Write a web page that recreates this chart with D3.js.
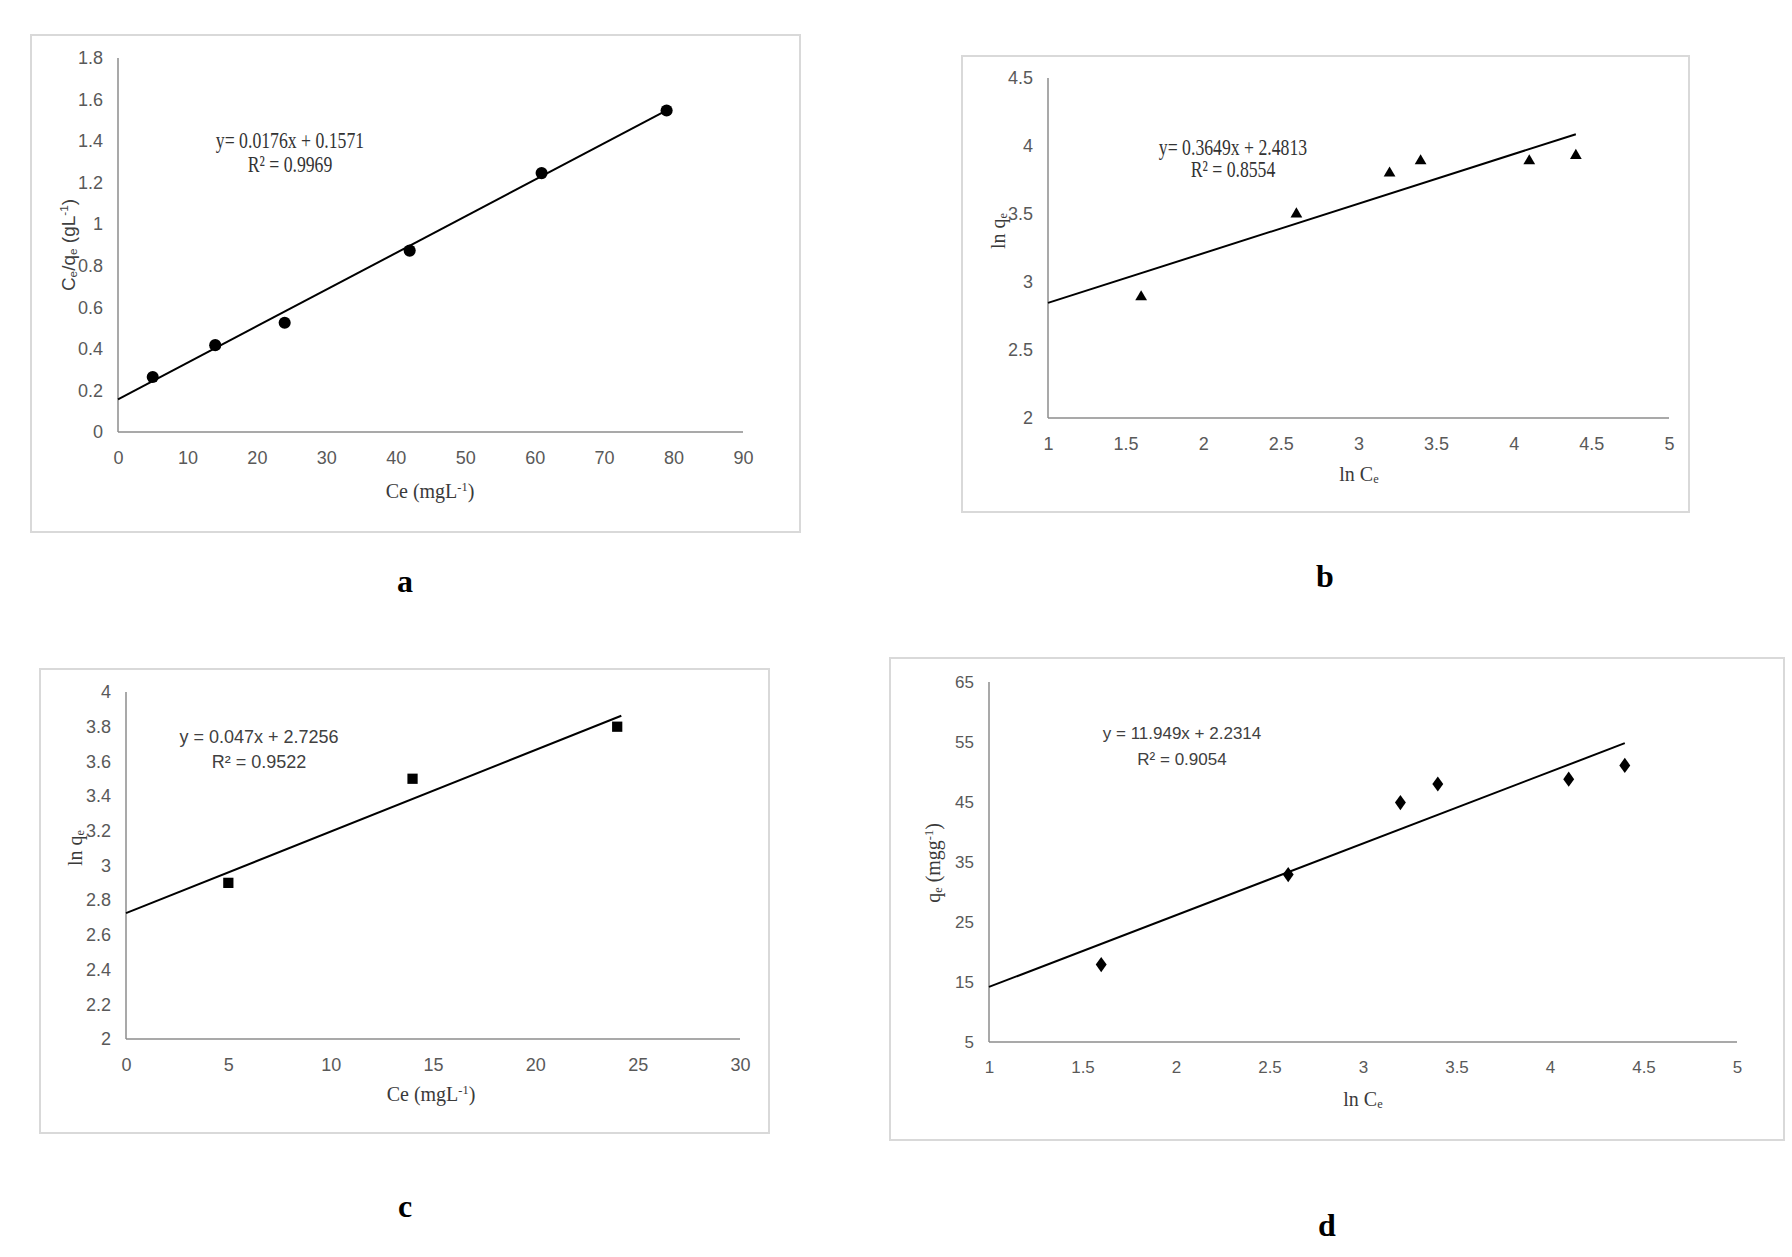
<!DOCTYPE html>
<html>
<head>
<meta charset="utf-8">
<script src="https://cdn.jsdelivr.net/npm/d3@7"></script>
<style>
  body { margin: 0; background: #ffffff; }
  .frame { fill: none; stroke: #d9d9d9; stroke-width: 2px; }
  .axis path.domain { stroke: #8c8c8c; stroke-width: 1.5px; }
  .axis .tick line { display: none; }
  .axis text { font-family: "Liberation Sans Narrow", "Liberation Sans", sans-serif; font-size: 18px; fill: #595959; }
  .axis.wide text { font-family: "Liberation Sans", sans-serif; font-size: 17px; }
  .fit { stroke: #000000; stroke-width: 2px; fill: none; }
  .marker { fill: #000000; }
  .title { font-family: "Liberation Serif", "Times New Roman", serif; font-size: 20px; fill: #3a3a3a; }
  .title.sans { font-family: "Liberation Sans Narrow", sans-serif; font-size: 19px; fill: #404040; }
  .eq-serif { font-family: "Liberation Serif", serif; font-size: 23px; fill: #333333; }
  .eq-sans { font-family: "Liberation Sans Narrow", sans-serif; font-size: 18px; fill: #404040; }
  .eq-sans.wide { font-family: "Liberation Sans", sans-serif; font-size: 17px; }
  .panel-label { font-family: "Liberation Serif", serif; font-weight: bold; font-size: 32px; fill: #000000; }
</style>
</head>
<body>
<svg id="fig" width="1792" height="1257"></svg>
<script>
// ---- data ----
// a: Langmuir, Ce/qe vs Ce
const aCe = [5, 14, 24, 42, 61, 79];
const aCeOverQe = [0.265, 0.418, 0.526, 0.873, 1.246, 1.547];
const aXTicks = [0, 10, 20, 30, 40, 50, 60, 70, 80, 90];
const aYTicks = [0, 0.2, 0.4, 0.6, 0.8, 1, 1.2, 1.4, 1.6, 1.8];
const aFit = [0.0176, 0.1571];      // slope, intercept
const aFitRange = [0, 79];
const aEquation = ['y= 0.0176x + 0.1571', 'R² = 0.9969'];

// b: Freundlich, ln qe vs ln Ce
const bLnCe = [1.6, 2.6, 3.2, 3.4, 4.1, 4.4];
const bLnQe = [2.89, 3.5, 3.8, 3.89, 3.89, 3.93];
const bXTicks = [1, 1.5, 2, 2.5, 3, 3.5, 4, 4.5, 5];
const bYTicks = [2, 2.5, 3, 3.5, 4, 4.5];
const bFit = [0.3649, 2.4813];
const bFitRange = [1, 4.4];
const bEquation = ['y= 0.3649x + 2.4813', 'R² = 0.8554'];

// c: ln qe vs Ce
const cCe = [5, 14, 24];
const cLnQe = [2.9, 3.5, 3.8];
const cXTicks = [0, 5, 10, 15, 20, 25, 30];
const cYTicks = [2, 2.2, 2.4, 2.6, 2.8, 3, 3.2, 3.4, 3.6, 3.8, 4];
const cFit = [0.047, 2.7256];
const cFitRange = [0, 24.2];
const cEquation = ['y = 0.047x + 2.7256', 'R² = 0.9522'];

// d: Temkin, qe vs ln Ce
const dLnCe = [1.6, 2.6, 3.2, 3.4, 4.1, 4.4];
const dQe = [17.9, 32.9, 44.9, 48, 48.8, 51.1];
const dXTicks = [1, 1.5, 2, 2.5, 3, 3.5, 4, 4.5, 5];
const dYTicks = [5, 15, 25, 35, 45, 55, 65];
const dFit = [11.949, 2.2314];
const dFitRange = [1, 4.4];
const dEquation = ['y = 11.949x + 2.2314', 'R² = 0.9054'];

// ---- layout ----
const svg = d3.select('#fig');

// custom diamond, a bit taller than wide
const diamond = {
  draw(ctx, size) {
    const h = Math.sqrt(size) * 0.8, w = h * 0.72;
    ctx.moveTo(0, -h); ctx.lineTo(w, 0); ctx.lineTo(0, h); ctx.lineTo(-w, 0); ctx.closePath();
  }
};

function richText(sel, parts) {
  parts.forEach(p => {
    const t = sel.append('tspan').text(p[0]);
    if (p[1] === 'sub') t.attr('font-size', '0.62em').attr('baseline-shift', '-20%');
    if (p[1] === 'sup') t.attr('font-size', '0.62em').attr('baseline-shift', '55%');
  });
}

const panels = [
  {
    frame: [31, 35, 800, 532], xRange: [118, 743], yRange: [432, 58],
    xs: aCe, ys: aCeOverQe, xTicks: aXTicks, yTicks: aYTicks,
    fit: aFit, fitRange: aFitRange, eq: aEquation, eqClass: 'eq-serif', eqScale: 0.77,
    eqPos: [290, 148, 172], symbol: d3.symbolCircle, symSize: 115,
    xTitle: [['Ce (mgL'], ['-1', 'sup'], [')']], xTitlePos: [430, 498],
    yTitle: [['C'], ['e', 'sub'], ['/q'], ['e', 'sub'], [' (gL'], ['-1', 'sup'], [')']], yTitlePos: [75, 245],
    yTitleSans: true,
    label: 'a', labelPos: [405, 592], wide: false
  },
  {
    frame: [962, 56, 1689, 512], xRange: [1048, 1669], yRange: [418, 78],
    xs: bLnCe, ys: bLnQe, xTicks: bXTicks, yTicks: bYTicks,
    fit: bFit, fitRange: bFitRange, eq: bEquation, eqClass: 'eq-serif', eqScale: 0.77,
    eqPos: [1233, 155, 177], symbol: d3.symbolTriangle, symSize: 60,
    xTitle: [['ln C'], ['e', 'sub']], xTitlePos: [1359, 481],
    yTitle: [['ln  q'], ['e', 'sub']], yTitlePos: [1005, 231],
    label: 'b', labelPos: [1325, 587], wide: false
  },
  {
    frame: [40, 669, 769, 1133], xRange: [126, 740], yRange: [1039, 692],
    xs: cCe, ys: cLnQe, xTicks: cXTicks, yTicks: cYTicks,
    fit: cFit, fitRange: cFitRange, eq: cEquation, eqClass: 'eq-sans', eqScale: 1,
    eqPos: [259, 743, 768], symbol: d3.symbolSquare, symSize: 105,
    xTitle: [['Ce (mgL'], ['-1', 'sup'], [')']], xTitlePos: [431, 1101],
    yTitle: [['ln  q'], ['e', 'sub']], yTitlePos: [82, 848],
    label: 'c', labelPos: [405, 1217], wide: false
  },
  {
    frame: [890, 658, 1784, 1140], xRange: [989, 1737], yRange: [1042, 682],
    xs: dLnCe, ys: dQe, xTicks: dXTicks, yTicks: dYTicks,
    fit: dFit, fitRange: dFitRange, eq: dEquation, eqClass: 'eq-sans wide', eqScale: 1,
    eqPos: [1182, 739, 765], symbol: diamond, symSize: 90,
    xTitle: [['ln C'], ['e', 'sub']], xTitlePos: [1363, 1106],
    yTitle: [['q'], ['e', 'sub'], [' (mgg'], ['-1', 'sup'], [')']], yTitlePos: [940, 863],
    label: 'd', labelPos: [1327, 1236], wide: true
  }
];

panels.forEach(p => {
  const g = svg.append('g');
  const f = p.frame;
  g.append('rect').attr('class', 'frame')
    .attr('x', f[0]).attr('y', f[1]).attr('width', f[2] - f[0]).attr('height', f[3] - f[1]);

  const x = d3.scaleLinear().domain(d3.extent(p.xTicks)).range(p.xRange);
  const y = d3.scaleLinear().domain(d3.extent(p.yTicks)).range(p.yRange);

  g.append('g').attr('class', 'axis' + (p.wide ? ' wide' : ''))
    .attr('transform', `translate(0,${p.yRange[0]})`)
    .call(d3.axisBottom(x).tickValues(p.xTicks).tickSize(0).tickPadding(19).tickFormat(String))
    .call(s => s.select('.domain').attr('d', `M${p.xRange[0]},0H${p.xRange[1]}`));

  g.append('g').attr('class', 'axis' + (p.wide ? ' wide' : ''))
    .attr('transform', `translate(${p.xRange[0]},0)`)
    .call(d3.axisLeft(y).tickValues(p.yTicks).tickSize(0).tickPadding(15).tickFormat(String))
    .call(s => s.select('.domain').attr('d', `M0,${p.yRange[0]}V${p.yRange[1]}`));

  // trend line
  const line = d3.line().x(d => x(d)).y(d => y(p.fit[0] * d + p.fit[1]));
  g.append('path').attr('class', 'fit').attr('d', line(p.fitRange));

  // markers
  g.selectAll('.marker').data(p.xs).join('path').attr('class', 'marker')
    .attr('transform', (d, i) => `translate(${x(d)},${y(p.ys[i])})`)
    .attr('d', d3.symbol(p.symbol, p.symSize));

  // equation
  p.eq.forEach((line, i) => {
    g.append('text').attr('class', p.eqClass)
      .attr('text-anchor', 'middle')
      .attr('transform', `translate(${p.eqPos[0]},${p.eqPos[i + 1]}) scale(${p.eqScale},1)`)
      .text(line);
  });

  // axis titles
  richText(g.append('text').attr('class', 'title').attr('text-anchor', 'middle')
    .attr('x', p.xTitlePos[0]).attr('y', p.xTitlePos[1]), p.xTitle);
  richText(g.append('text').attr('class', p.yTitleSans ? 'title sans' : 'title')
    .attr('text-anchor', 'middle')
    .attr('transform', `translate(${p.yTitlePos[0]},${p.yTitlePos[1]}) rotate(-90)`), p.yTitle);

  svg.append('text').attr('class', 'panel-label').attr('text-anchor', 'middle')
    .attr('x', p.labelPos[0]).attr('y', p.labelPos[1]).text(p.label);
});
</script>
</body>
</html>
